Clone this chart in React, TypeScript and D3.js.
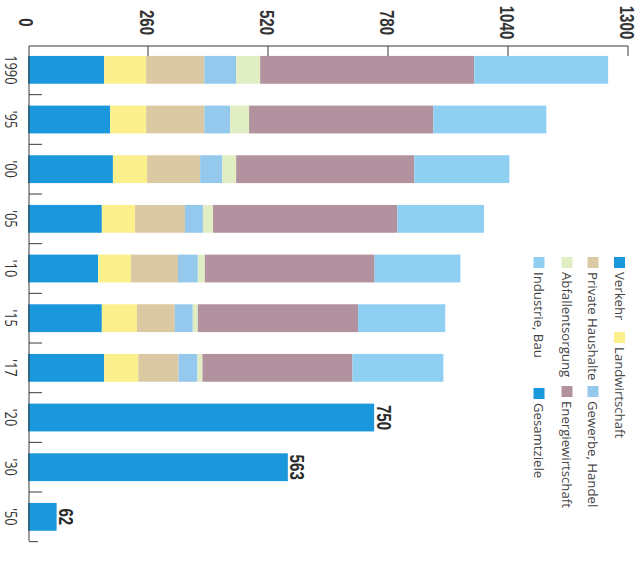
import React from "react";
import * as d3 from "d3";

const years = ["1990", "'95", "'00", "'05", "'10", "'15", "'17", "'20", "'30", "'50"];
const histYears = ["1990", "'95", "'00", "'05", "'10", "'15", "'17"];
const verkehr = [165, 178, 184, 160, 152, 160, 165];
const landwirtschaft = [91, 78, 74, 72, 71, 76, 74];
const privateHaushalte = [126, 126, 115, 108, 102, 82, 87];
const gewerbeHandel = [69, 56, 48, 39, 43, 39, 41];
const abfallentsorgung = [52, 41, 30, 22, 15, 11, 11];
const energiewirtschaft = [464, 399, 386, 399, 368, 347, 325];
const industrieBau = [290, 245, 206, 188, 186, 189, 197];
const targetYears = ["'20", "'30", "'50"];
const targets = [750, 563, 62];
const axisTicks = [0, 260, 520, 780, 1040, 1300];

const seriesNames = [
  "Verkehr",
  "Landwirtschaft",
  "Private Haushalte",
  "Gewerbe, Handel",
  "Abfallentsorgung",
  "Energiewirtschaft",
  "Industrie, Bau",
];
const seriesValues = [
  verkehr,
  landwirtschaft,
  privateHaushalte,
  gewerbeHandel,
  abfallentsorgung,
  energiewirtschaft,
  industrieBau,
];
const colors: Record<string, string> = {
  Verkehr: "#1b98dc",
  Landwirtschaft: "#fbf08c",
  "Private Haushalte": "#dac9a2",
  "Gewerbe, Handel": "#94c8ec",
  Abfallentsorgung: "#e1eec4",
  Energiewirtschaft: "#b2929f",
  "Industrie, Bau": "#8fd0f2",
  Gesamtziele: "#1b98dc",
};

const W = 643;
const H = 565;

export default function App() {
  const x = d3.scaleLinear().domain([0, 1300]).range([28, 628]);
  const y = d3.scaleBand<string>().domain(years).range([45, 541.7]).paddingInner(0.44).paddingOuter(0.22);

  const table = histYears.map((yr, i) => {
    const row: any = { year: yr };
    seriesNames.forEach((s, k) => (row[s] = seriesValues[k][i]));
    return row;
  });
  const stacked = d3.stack<any>().keys(seriesNames)(table);

  const axisFont = "'Liberation Sans', Arial, sans-serif";
  const lightFont = "'Open Sans', 'Noto Sans', sans-serif";

  const legendItems = [
    { name: "Verkehr", cx: 619.5, y0: 257 },
    { name: "Landwirtschaft", cx: 619.5, y0: 332 },
    { name: "Private Haushalte", cx: 593, y0: 257 },
    { name: "Gewerbe, Handel", cx: 593, y0: 386 },
    { name: "Abfallentsorgung", cx: 567, y0: 257 },
    { name: "Energiewirtschaft", cx: 567, y0: 386 },
    { name: "Industrie, Bau", cx: 539, y0: 257 },
    { name: "Gesamtziele", cx: 539, y0: 388 },
  ];

  const boundaries = years.map((_, i) => 45 + (i + 1) * y.step());

  return (
    <svg width={W} height={H} style={{ position: "absolute", left: 0, top: 0, background: "#fff" }}>
      {/* stacked bars */}
      {stacked.map((layer) => (
        <g key={layer.key} fill={colors[layer.key as string]}>
          {layer.map((d, i) => (
            <rect
              key={i}
              x={x(d[0])}
              y={y(d.data.year)}
              width={x(d[1]) - x(d[0])}
              height={y.bandwidth()}
            />
          ))}
        </g>
      ))}
      {/* target bars */}
      {targetYears.map((yr, i) => (
        <g key={yr}>
          <rect x={x(0)} y={y(yr)} width={x(targets[i]) - x(0)} height={y.bandwidth()} fill={colors.Gesamtziele} />
          <text
            transform={`translate(${x(targets[i]) + 10},${(y(yr) as number) + y.bandwidth() / 2}) rotate(90) scale(0.72,1)`}
            textAnchor="middle"
            dominantBaseline="central"
            fontFamily={axisFont}
            fontWeight="bold"
            fontSize={21}
            fill="#2a2a2a"
          >
            {targets[i]}
          </text>
        </g>
      ))}
      {/* top axis */}
      <line x1={29} x2={x(1300)} y1={46} y2={46} stroke="#3a3a3a" strokeWidth={1} />
      {axisTicks.map((t) => (
        <g key={t}>
          {t > 0 && <line x1={x(t)} x2={x(t)} y1={46} y2={56} stroke="#3a3a3a" strokeWidth={1} />}
          <text
            transform={`translate(${t === 0 ? 26 : x(t) - 1},22.5) rotate(90) scale(0.72,1)`}
            textAnchor="middle"
            dominantBaseline="central"
            fontFamily={axisFont}
            fontWeight="bold"
            fontSize={21}
            fill="#333"
          >
            {t}
          </text>
        </g>
      ))}
      {/* left axis */}
      <line x1={29} x2={29} y1={46} y2={541} stroke="#3a3a3a" strokeWidth={1} />
      {boundaries.map((b, i) => (
        <line key={i} x1={29} x2={i === boundaries.length - 1 ? 38 : 42} y1={b} y2={b} stroke="#3a3a3a" strokeWidth={1} />
      ))}
      {years.map((yr) => (
        <text
          key={yr}
          transform={`translate(11,${(y(yr) as number) + y.bandwidth() / 2}) rotate(90) scale(0.8,1)`}
          textAnchor="middle"
          dominantBaseline="central"
          fontFamily={lightFont}
          fontSize={16}
          fill="#333"
        >
          {yr}
        </text>
      ))}
      {/* legend */}
      {legendItems.map((it) => (
        <g key={it.name} transform={`translate(${it.cx},${it.y0}) rotate(90)`}>
          <rect x={0} y={-5.5} width={11} height={11} fill={colors[it.name]} />
          <text x={15} y={0} dominantBaseline="central" fontFamily={lightFont} fontSize={13.2} fill="#444">
            {it.name}
          </text>
        </g>
      ))}
    </svg>
  );
}
